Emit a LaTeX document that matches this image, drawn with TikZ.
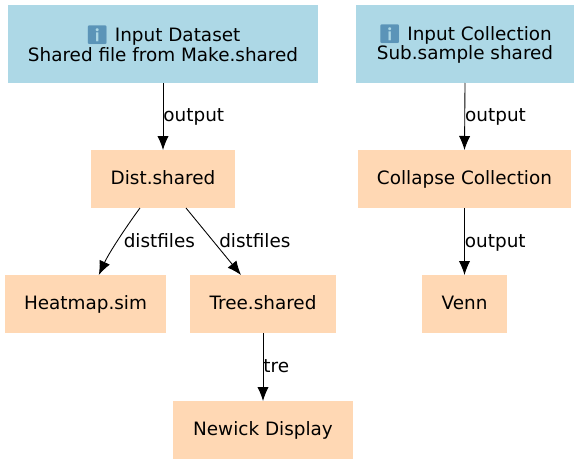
\documentclass[tikz,border=0pt]{standalone}
\usepackage{fontspec}
\setmainfont{DejaVu Sans}
\newfontfamily\emojifont{Noto Emoji}
\usetikzlibrary{arrows.meta}
\definecolor{inputblue}{HTML}{ADD8E6}
\definecolor{toolpeach}{HTML}{FFD8B4}
\definecolor{infoblue}{HTML}{5B94B8}
\newcommand{\infoicon}{{\emojifont\textcolor{infoblue}{^^^^2139}}}
\tikzset{
  x=0.75pt,y=-0.75pt,
  boxstyle/.style={rectangle,inner sep=0pt,outer sep=0pt,font=\fontsize{13.8pt}{14.6pt}\selectfont,align=center,text=black},
  inputbox/.style={boxstyle,fill=inputblue},
  toolbox/.style={boxstyle,fill=toolpeach,text height=10.5pt,text depth=2.5pt},
  edgeline/.style={draw=black,line width=0.65pt,-{Latex[length=10.5pt,width=8.5pt]}},
  edgelabel/.style={font=\fontsize{13.8pt}{14.6pt}\selectfont,inner sep=0pt,text=black,anchor=west,text height=10.5pt,text depth=2.5pt}
}
\newcommand{\boxnode}[7]{\node[#1,minimum width=#5*0.75pt-#4*0.75pt,minimum height=#7*0.75pt-#6*0.75pt] (#2) at ({(#4+#5)/2},{(#6+#7)/2}) {#3};}
\begin{document}
\begin{tikzpicture}
\useasboundingbox (0,0) rectangle (578,464);
\boxnode{inputbox}{ds}{\infoicon{} Input Dataset\\Shared file from Make.shared}{8}{318}{5}{83}
\boxnode{inputbox}{coll}{\infoicon{} Input Collection\\Sub.sample shared}{356}{574}{5}{83}
\boxnode{toolbox}{dist}{Dist.shared}{91}{235}{150}{208}
\boxnode{toolbox}{collapse}{Collapse Collection}{358}{571}{150}{208}
\boxnode{toolbox}{heat}{Heatmap.sim}{5}{166}{275}{333}
\boxnode{toolbox}{tree}{Tree.shared}{190}{336}{275}{333}
\boxnode{toolbox}{venn}{Venn}{422}{507}{275}{333}
\boxnode{toolbox}{newick}{Newick Display}{173}{353}{401}{459}
\draw[edgeline] (ds.south) -- (dist.north) node[edgelabel,pos=0.48,yshift=-1pt] {output};
\draw[edgeline] (coll.south) -- (collapse.north) node[edgelabel,pos=0.48,yshift=-1pt] {output};
\draw[edgeline] (collapse.south) -- (venn.north) node[edgelabel,pos=0.48,yshift=-1.2pt] {output};
\draw[edgeline] (tree.south) -- (newick.north) node[edgelabel,pos=0.48,yshift=-1.2pt] {tre};
\draw[edgeline] ([xshift=-17.25pt]dist.south) .. controls +(-9,12) and +(11,-24) .. ([xshift=10pt]heat.north);
\draw[edgeline] ([xshift=17.25pt]dist.south) -- ([xshift=-16.5pt]tree.north);
\coordinate (dlabela) at (123.5,242);
\coordinate (dlabelb) at (219,242);
\node[edgelabel] (la) at (dlabela) {distfiles};
\node[edgelabel] (lb) at (dlabelb) {distfiles};
\end{tikzpicture}
\end{document}
